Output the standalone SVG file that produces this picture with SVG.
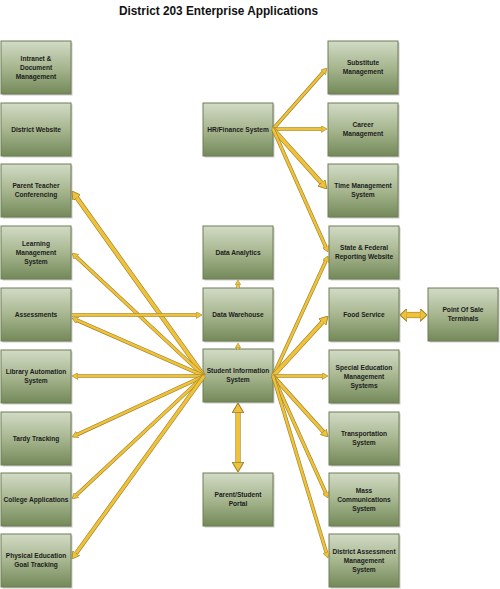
<svg xmlns="http://www.w3.org/2000/svg" width="500" height="589" viewBox="0 0 500 589">
<style>
.box{fill:url(#g);stroke:#6e7e55;stroke-width:1}
.sh{fill:#8a8a8a;opacity:.45}
.t{font-family:"Liberation Sans",Arial,sans-serif;font-weight:bold;font-size:6.6px;fill:#1c1c1c;text-anchor:middle}
.title{font-family:"Liberation Sans",Arial,sans-serif;font-weight:bold;font-size:13px;fill:#111}
.o{fill:none;stroke:#9a7f2c;stroke-linecap:butt}
.i{fill:none;stroke:#f0c23a;stroke-linecap:butt}
.w2 .o{stroke-width:3.2}.w2 .i{stroke-width:2}
.w25 .o{stroke-width:3.7}.w25 .i{stroke-width:2.5}
.w3 .o{stroke-width:4.2}.w3 .i{stroke-width:3}
.w35 .o{stroke-width:4.7}.w35 .i{stroke-width:3.5}
.w4 .o{stroke-width:5.2}.w4 .i{stroke-width:4}
.w5 .o{stroke-width:6.2}.w5 .i{stroke-width:5}
.e .i{marker-end:url(#ah)}
.d .i{marker-end:url(#ah);marker-start:url(#ah)}
.pos .i{marker-end:url(#ah2);marker-start:url(#ah2)}
</style>
<defs>
<linearGradient id="g" x1="0" y1="0" x2="0" y2="1">
<stop offset="0" stop-color="#d2dbc6"/>
<stop offset="0.5" stop-color="#a7b68f"/>
<stop offset="1" stop-color="#74895a"/>
</linearGradient>
<marker id="ah" viewBox="0 0 10 10" refX="1" refY="5" markerWidth="2.4" markerHeight="2.8" preserveAspectRatio="none" orient="auto-start-reverse">
<path d="M0,0 L10,5 L0,10 Z" fill="#f0c23a" stroke="#9a7f2c" stroke-width="0.9"/>
</marker>
<marker id="ah2" viewBox="0 0 10 10" refX="1" refY="5" markerWidth="1.4" markerHeight="2.6" preserveAspectRatio="none" orient="auto-start-reverse">
<path d="M0,0 L10,5 L0,10 Z" fill="#f0c23a" stroke="#9a7f2c" stroke-width="0.9"/>
</marker>
</defs>
<rect width="500" height="589" fill="#fff"/>
<text class="title" x="119" y="15" textLength="199" lengthAdjust="spacingAndGlyphs">District 203 Enterprise Applications</text>

<g id="nodes">
<g id="intranet"><rect class="sh" x="2.5" y="42.5" width="70" height="53"/><rect class="box" x="1" y="41" width="70" height="53"/><text class="t" x="36" y="60.8">Intranet &amp;</text><text class="t" x="36" y="69.8">Document</text><text class="t" x="36" y="78.8">Management</text></g>
<g id="website"><rect class="sh" x="2.5" y="104.5" width="70" height="53"/><rect class="box" x="1" y="103" width="70" height="53"/><text class="t" x="36" y="131.8">District Website</text></g>
<g id="ptc"><rect class="sh" x="2.5" y="165.5" width="70" height="53"/><rect class="box" x="1" y="164" width="70" height="53"/><text class="t" x="36" y="188.3">Parent Teacher</text><text class="t" x="36" y="197.3">Conferencing</text></g>
<g id="lms"><rect class="sh" x="2.5" y="227.5" width="70" height="53"/><rect class="box" x="1" y="226" width="70" height="53"/><text class="t" x="36" y="245.8">Learning</text><text class="t" x="36" y="254.8">Management</text><text class="t" x="36" y="263.8">System</text></g>
<g id="assess"><rect class="sh" x="2.5" y="289.5" width="70" height="53"/><rect class="box" x="1" y="288" width="70" height="53"/><text class="t" x="36" y="316.8">Assessments</text></g>
<g id="library"><rect class="sh" x="2.5" y="351.5" width="70" height="53"/><rect class="box" x="1" y="350" width="70" height="53"/><text class="t" x="36" y="374.3">Library Automation</text><text class="t" x="36" y="383.3">System</text></g>
<g id="tardy"><rect class="sh" x="2.5" y="413.5" width="70" height="53"/><rect class="box" x="1" y="412" width="70" height="53"/><text class="t" x="36" y="440.8">Tardy Tracking</text></g>
<g id="college"><rect class="sh" x="2.5" y="474.5" width="70" height="53"/><rect class="box" x="1" y="473" width="70" height="53"/><text class="t" x="36" y="501.8">College Applications</text></g>
<g id="pe"><rect class="sh" x="2.5" y="535.5" width="70" height="53"/><rect class="box" x="1" y="534" width="70" height="53"/><text class="t" x="36" y="558.3">Physical Education</text><text class="t" x="36" y="567.3">Goal Tracking</text></g>

<g id="hr"><rect class="sh" x="204.5" y="104.5" width="70" height="53"/><rect class="box" x="203" y="103" width="70" height="53"/><text class="t" x="238" y="131.8">HR/Finance System</text></g>
<g id="analytics"><rect class="sh" x="204.5" y="227.5" width="70" height="53"/><rect class="box" x="203" y="226" width="70" height="53"/><text class="t" x="238" y="254.8">Data Analytics</text></g>
<g id="warehouse"><rect class="sh" x="204.5" y="289.5" width="70" height="53"/><rect class="box" x="203" y="288" width="70" height="53"/><text class="t" x="238" y="316.8">Data Warehouse</text></g>
<g id="sis"><rect class="sh" x="204.5" y="350.5" width="70" height="53"/><rect class="box" x="203" y="349" width="70" height="53"/><text class="t" x="238" y="373.3">Student Information</text><text class="t" x="238" y="382.3">System</text></g>
<g id="portal"><rect class="sh" x="204.5" y="474.5" width="70" height="53"/><rect class="box" x="203" y="473" width="70" height="53"/><text class="t" x="238" y="497.3">Parent/Student</text><text class="t" x="238" y="506.3">Portal</text></g>

<g id="substitute"><rect class="sh" x="329.5" y="42.5" width="70" height="53"/><rect class="box" x="328" y="41" width="70" height="53"/><text class="t" x="363" y="65.3">Substitute</text><text class="t" x="363" y="74.3">Management</text></g>
<g id="career"><rect class="sh" x="329.5" y="104.5" width="70" height="53"/><rect class="box" x="328" y="103" width="70" height="53"/><text class="t" x="363" y="127.3">Career</text><text class="t" x="363" y="136.3">Management</text></g>
<g id="time"><rect class="sh" x="329.5" y="165.5" width="70" height="53"/><rect class="box" x="328" y="164" width="70" height="53"/><text class="t" x="363" y="188.3">Time Management</text><text class="t" x="363" y="197.3">System</text></g>
<g id="state"><rect class="sh" x="330.5" y="227.5" width="70" height="53"/><rect class="box" x="329" y="226" width="70" height="53"/><text class="t" x="364" y="250.3">State &amp; Federal</text><text class="t" x="364" y="259.3">Reporting Website</text></g>
<g id="food"><rect class="sh" x="330.5" y="289.5" width="70" height="53"/><rect class="box" x="329" y="288" width="70" height="53"/><text class="t" x="364" y="316.8">Food Service</text></g>
<g id="sped"><rect class="sh" x="330.5" y="351.5" width="70" height="53"/><rect class="box" x="329" y="350" width="70" height="53"/><text class="t" x="364" y="369.8">Special Education</text><text class="t" x="364" y="378.8">Management</text><text class="t" x="364" y="387.8">Systems</text></g>
<g id="transport"><rect class="sh" x="330.5" y="413.5" width="70" height="53"/><rect class="box" x="329" y="412" width="70" height="53"/><text class="t" x="364" y="436.3">Transportation</text><text class="t" x="364" y="445.3">System</text></g>
<g id="mass"><rect class="sh" x="330.5" y="474.5" width="70" height="53"/><rect class="box" x="329" y="473" width="70" height="53"/><text class="t" x="364" y="492.8">Mass</text><text class="t" x="364" y="501.8">Communications</text><text class="t" x="364" y="510.8">System</text></g>
<g id="dams"><rect class="sh" x="330.5" y="535.5" width="70" height="53"/><rect class="box" x="329" y="534" width="70" height="53"/><text class="t" x="364" y="553.8">District Assessment</text><text class="t" x="364" y="562.8">Management</text><text class="t" x="364" y="571.8">System</text></g>
<g id="pos"><rect class="sh" x="429.5" y="289.5" width="70" height="53"/><rect class="box" x="428" y="288" width="70" height="53"/><text class="t" x="463" y="312.3">Point Of Sale</text><text class="t" x="463" y="321.3">Terminals</text></g>
</g>

<g id="connectors">
<g class="e w35"><path class="o" d="M204,376 L76.4,197.2"/><path class="i" d="M204,376 L76.4,197.2"/></g>
<g class="e w25"><path class="o" d="M204,376 L76,256.7"/><path class="i" d="M204,376 L76,256.7"/></g>
<g class="e w25"><path class="o" d="M204,376 L76.9,320.2"/><path class="i" d="M204,376 L76.9,320.2"/></g>
<g class="e w25"><path class="o" d="M72,315 L196.6,315"/><path class="i" d="M72,315 L196.6,315"/></g>
<g class="e w25"><path class="o" d="M204,376 L77.4,376"/><path class="i" d="M204,376 L77.4,376"/></g>
<g class="e w25"><path class="o" d="M204,376 L76.9,434.7"/><path class="i" d="M204,376 L76.9,434.7"/></g>
<g class="e w25"><path class="o" d="M204,376 L76,495.3"/><path class="i" d="M204,376 L76,495.3"/></g>
<g class="e w3"><path class="o" d="M204,376 L75.8,553.7"/><path class="i" d="M204,376 L75.8,553.7"/></g>

<g class="e w25"><path class="o" d="M273,376 L325.8,260.9"/><path class="i" d="M273,376 L325.8,260.9"/></g>
<g class="e w35"><path class="o" d="M273,376 L322.9,321.6"/><path class="i" d="M273,376 L322.9,321.6"/></g>
<g class="e w25"><path class="o" d="M273,376 L322.6,376"/><path class="i" d="M273,376 L322.6,376"/></g>
<g class="e w3"><path class="o" d="M273,376 L323.7,432.2"/><path class="i" d="M273,376 L323.7,432.2"/></g>
<g class="e w25"><path class="o" d="M273,376 L325.8,493.1"/><path class="i" d="M273,376 L325.8,493.1"/></g>
<g class="e w25"><path class="o" d="M273,376 L326.4,552.8"/><path class="i" d="M273,376 L326.4,552.8"/></g>

<g class="e w25"><path class="o" d="M273,129 L323.4,72"/><path class="i" d="M273,129 L323.4,72"/></g>
<g class="e w25"><path class="o" d="M273,129 L321.6,129"/><path class="i" d="M273,129 L321.6,129"/></g>
<g class="e w35"><path class="o" d="M273,129 L321.9,183.4"/><path class="i" d="M273,129 L321.9,183.4"/></g>
<g class="e w25"><path class="o" d="M273,129 L325.8,247.1"/><path class="i" d="M273,129 L325.8,247.1"/></g>

<g class="e w2"><path class="o" d="M238,288 L238,284.3"/><path class="i" d="M238,288 L238,284.3"/></g>
<g class="e w2"><path class="o" d="M238,349.5 L238,347.3"/><path class="i" d="M238,349.5 L238,347.3"/></g>
<g class="d w4"><path class="o" d="M238,411.6 L238,463.4"/><path class="i" d="M238,411.6 L238,463.4"/></g>
<g class="pos w5"><path class="o" d="M406.3,315 L420.7,315"/><path class="i" d="M406.3,315 L420.7,315"/></g>
</g>
</svg>
